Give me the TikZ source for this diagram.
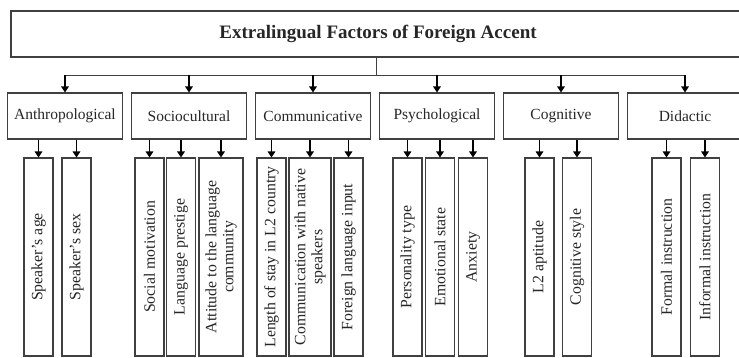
\documentclass[tikz,border=0pt]{standalone}
\usepackage{fontspec}
\setmainfont{Liberation Serif}
\usetikzlibrary{arrows.meta}
\begin{document}
\begin{tikzpicture}[x=1pt,y=-1pt,>={Triangle[length=6pt,width=7.5pt]},
        box/.style={draw=black!75,line width=1.1pt,inner sep=0pt,text=black!85},
        group/.style={box,minimum width=115pt,minimum height=46pt,font=\fontsize{15.5}{17}\selectfont},
        leaf/.style={box,rotate=90,minimum width=198pt,minimum height=29pt,align=center,font=\fontsize{15.8}{17}\selectfont},
        link/.style={line width=1.4pt,black}]
        \clip (0,0) rectangle (739,357);
        \node[box,minimum width=734pt,minimum height=46pt,font=\bfseries\fontsize{19}{21}\selectfont] (title) at (378,34) {Extralingual Factors of Foreign Accent};
        \node[group] (anthro) at (65,116) {Anthropological};
        \node[group] (socio) at (189,116) {Sociocultural};
        \node[group] (commun) at (313,116) {Communicative};
        \node[group] (psych) at (437,116) {Psychological};
        \node[group] (cogn) at (561,116) {Cognitive};
        \node[group] (didact) at (685,116) {Didactic};
        \node[leaf] (age) at (38.5,257) {Speaker’s age};
        \node[leaf] (sex) at (76.5,257) {Speaker’s sex};
        \node[leaf] (motiv) at (149.5,257) {Social motivation};
        \node[leaf] (prestige) at (181,257) {Language prestige};
        \node[leaf,minimum height=44pt] (attitude) at (221,257) {Attitude to the language\\community};
        \node[leaf] (stay) at (271.5,257) {Length of stay in L2 country};
        \node[leaf,minimum height=42pt] (native) at (310,257) {Communication with native\\speakers};
        \node[leaf] (input) at (348.5,257) {Foreign language input};
        \node[leaf] (person) at (407.5,257) {Personality type};
        \node[leaf] (emotion) at (440,257) {Emotional state};
        \node[leaf] (anxiety) at (473,257) {Anxiety};
        \node[leaf] (aptitude) at (539.5,257) {L2 aptitude};
        \node[leaf] (style) at (577,257) {Cognitive style};
        \node[leaf] (formal) at (666.5,257) {Formal instruction};
        \node[leaf] (informal) at (705,257) {Informal instruction};
        \coordinate (bus) at (376,75);
        \draw[draw=black!75,line width=1pt] (title.south -| bus) -- (bus);
        \draw[draw=black!75,line width=1pt] (bus -| anthro) -- (bus -| didact);
        \foreach \g in {anthro,socio,commun,psych,cogn,didact}
          \draw[link,->] (bus -| \g) -- (\g.north);
        \foreach \g/\l in {anthro/age,anthro/sex,socio/motiv,socio/prestige,socio/attitude,
            commun/stay,commun/native,commun/input,psych/person,psych/emotion,psych/anxiety,
            cogn/aptitude,cogn/style,didact/formal,didact/informal}
          \draw[link,->] (\g.south -| \l) -- (\l.east);
      \end{tikzpicture}
\end{document}
